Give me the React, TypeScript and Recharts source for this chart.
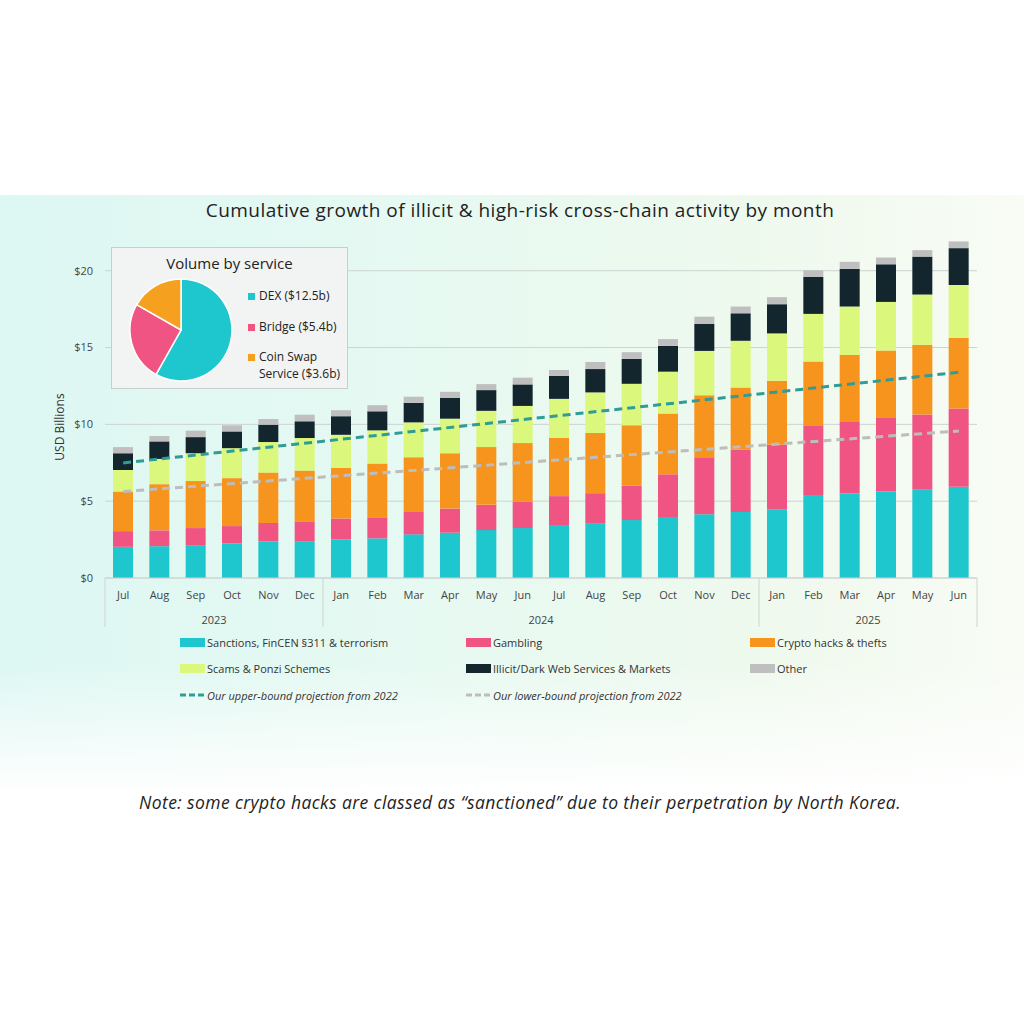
import React from 'react';
import { ComposedChart, Bar, Line, XAxis, YAxis, CartesianGrid, PieChart, Pie, Cell } from 'recharts';

const months = ['Jul','Aug','Sep','Oct','Nov','Dec','Jan','Feb','Mar','Apr','May','Jun','Jul','Aug','Sep','Oct','Nov','Dec','Jan','Feb','Mar','Apr','May','Jun'];
const sanctions = [2.03,2.07,2.14,2.25,2.38,2.40,2.51,2.58,2.84,2.95,3.12,3.25,3.45,3.53,3.77,3.97,4.15,4.30,4.48,5.41,5.50,5.63,5.74,5.94];
const gambling = [1.02,1.03,1.11,1.13,1.20,1.29,1.36,1.37,1.46,1.57,1.64,1.73,1.88,1.99,2.23,2.78,3.71,4.04,4.19,4.48,4.66,4.79,4.90,5.09];
const hacks = [2.58,3.01,3.06,3.12,3.28,3.30,3.31,3.50,3.56,3.60,3.76,3.80,3.80,3.92,3.94,3.95,4.04,4.06,4.17,4.20,4.36,4.39,4.54,4.59];
const scams = [1.40,1.64,1.81,1.95,1.99,2.12,2.14,2.16,2.27,2.25,2.36,2.42,2.53,2.64,2.70,2.73,2.88,3.04,3.08,3.10,3.15,3.16,3.27,3.45];
const darkweb = [1.09,1.14,1.05,1.09,1.13,1.09,1.21,1.24,1.27,1.36,1.35,1.40,1.49,1.52,1.62,1.68,1.77,1.79,1.90,2.40,2.45,2.45,2.47,2.40];
const other = [0.40,0.35,0.42,0.40,0.37,0.43,0.39,0.40,0.40,0.39,0.39,0.44,0.39,0.46,0.44,0.44,0.46,0.44,0.46,0.44,0.46,0.44,0.42,0.44];
// projection lines: only endpoints (straight lines)
const upperProj: (number | null)[] = [7.49,null,null,null,null,null,null,null,null,null,null,null,null,null,null,null,null,null,null,null,null,null,null,13.39];
const lowerProj: (number | null)[] = [5.63,null,null,null,null,null,null,null,null,null,null,null,null,null,null,null,null,null,null,null,null,null,null,9.57];

const yearLabels = [
  { label: '2023', start: 0, end: 5 },
  { label: '2024', start: 6, end: 17 },
  { label: '2025', start: 18, end: 23 },
];
const yTicks = [0, 5, 10, 15, 20];

const pieNames = ['DEX ($12.5b)', 'Bridge ($5.4b)', 'Coin Swap Service ($3.6b)'];
const pieValues = [12.5, 5.4, 3.6];

const C = {
  sanctions: '#1ec6cd',
  gambling: '#ef5483',
  hacks: '#f7941e',
  scams: '#dbf87c',
  dark: '#13252d',
  other: '#bfbfbf',
  upper: '#2f9d96',
  lower: '#bdbdbd',
};
const pieColors = [C.sanctions, C.gambling, '#f6a01f'];

const data = months.map((m, i) => ({
  month: m,
  idx: i,
  sanctions: sanctions[i],
  gambling: gambling[i],
  hacks: hacks[i],
  scams: scams[i],
  darkweb: darkweb[i],
  other: other[i],
  upper: upperProj[i],
  lower: lowerProj[i],
}));
const pieData = pieNames.map((n, i) => ({ name: n, value: pieValues[i] }));

const FONT = '"Open Sans", "Noto Sans", sans-serif';
const CHART_W = 1024;
const CHART_H = 640;
const MARGIN = { top: 240, right: 47, bottom: 12, left: 55 };
const Y_W = 50;
const X_H = 50;
const BAND = (CHART_W - MARGIN.left - MARGIN.right - Y_W) / months.length;

const MonthTick = (props: any) => {
  const { x, y, payload } = props;
  const i = payload.index;
  const els: React.ReactNode[] = [];
  els.push(
    <text key="m" x={x} y={y + 21} textAnchor="middle" fontSize={11} fill="#444" fontFamily={FONT}>
      {payload.value}
    </text>
  );
  yearLabels.forEach((yl) => {
    if (yl.start === i) {
      els.push(
        <line key={'s' + yl.label} x1={x - BAND / 2} x2={x - BAND / 2} y1={y} y2={y + 49} stroke="#cfd4d3" strokeWidth={1} />
      );
      els.push(
        <text key={'y' + yl.label} x={x + ((yl.end - yl.start) / 2) * BAND} y={y + 46} textAnchor="middle" fontSize={11} fill="#444" fontFamily={FONT}>
          {yl.label}
        </text>
      );
    }
    if (yl.end === i && i === months.length - 1) {
      els.push(
        <line key={'e' + yl.label} x1={x + BAND / 2} x2={x + BAND / 2} y1={y} y2={y + 49} stroke="#cfd4d3" strokeWidth={1} />
      );
    }
  });
  return <g>{els}</g>;
};

const legendItems = [
  { label: 'Sanctions, FinCEN §311 & terrorism', color: C.sanctions, type: 'box' },
  { label: 'Gambling', color: C.gambling, type: 'box' },
  { label: 'Crypto hacks & thefts', color: C.hacks, type: 'box' },
  { label: 'Scams & Ponzi Schemes', color: C.scams, type: 'box' },
  { label: 'Illicit/Dark Web Services & Markets', color: C.dark, type: 'box' },
  { label: 'Other', color: C.other, type: 'box' },
  { label: 'Our upper-bound projection from 2022', color: C.upper, type: 'dash' },
  { label: 'Our lower-bound projection from 2022', color: C.lower, type: 'dash' },
];
const legendCols = [180, 466, 750];
const legendRows = [642, 668, 695];

export default function App() {
  return (
    <div style={{ position: 'absolute', left: 0, top: 0, width: 1024, height: 1024, background: '#fff', overflow: 'hidden', fontFamily: FONT }}>
      <div
        style={{
          position: 'absolute', left: 0, top: 195, width: 1024, height: 600,
          background:
            'linear-gradient(to bottom, rgba(255,255,255,0) 0%, rgba(255,255,255,0) 78%, rgba(255,255,255,1) 100%), linear-gradient(to right, #ddf7f3 0%, #e6f9f2 40%, #eff9ee 75%, #f8fcf5 100%)',
        }}
      />
      <div style={{ position: 'absolute', left: 0, top: 197, width: 1040, textAlign: 'center', fontSize: 19, letterSpacing: 0.45, color: '#222', whiteSpace: 'nowrap' }}>
        Cumulative growth of illicit &amp; high-risk cross-chain activity by month
      </div>
      <div style={{ position: 'absolute', left: 0, top: 418, width: 120, transform: 'rotate(-90deg)', transformOrigin: '60px 9px', textAlign: 'center', fontSize: 12, color: '#333', lineHeight: '18px' }}>
        USD Billions
      </div>
      <div style={{ position: 'absolute', left: 0, top: 0 }}>
        <ComposedChart width={CHART_W} height={CHART_H} data={data} margin={MARGIN} barCategoryGap={0}>
          <CartesianGrid vertical={false} stroke="#ccd3d1" horizontalValues={yTicks} />
          <XAxis dataKey="month" interval={0} tickSize={0} tickMargin={0} height={X_H} tickLine={false} axisLine={{ stroke: '#cfd4d3' }} tick={<MonthTick />} />
          <YAxis width={Y_W} domain={[0, 22]} ticks={yTicks} tickSize={0} tickMargin={12} axisLine={false} tickLine={false} tickFormatter={(v: number) => `$${v}`} tick={{ fontSize: 11, fill: '#444', fontFamily: FONT }} />
          <Bar dataKey="sanctions" stackId="a" fill={C.sanctions} barSize={20} isAnimationActive={false} />
          <Bar dataKey="gambling" stackId="a" fill={C.gambling} barSize={20} isAnimationActive={false} />
          <Bar dataKey="hacks" stackId="a" fill={C.hacks} barSize={20} isAnimationActive={false} />
          <Bar dataKey="scams" stackId="a" fill={C.scams} barSize={20} isAnimationActive={false} />
          <Bar dataKey="darkweb" stackId="a" fill={C.dark} barSize={20} isAnimationActive={false} />
          <Bar dataKey="other" stackId="a" fill={C.other} barSize={20} isAnimationActive={false} />
          <Line dataKey="upper" type="linear" stroke={C.upper} strokeWidth={3} strokeDasharray="8 5" dot={false} connectNulls isAnimationActive={false} />
          <Line dataKey="lower" type="linear" stroke={C.lower} strokeWidth={3} strokeDasharray="8 5" dot={false} connectNulls isAnimationActive={false} />
        </ComposedChart>
      </div>

      {/* inset pie */}
      <div style={{ position: 'absolute', left: 111, top: 247, width: 235, height: 140, background: '#f2f3f3', border: '1px solid #c9cdcc' }}>
        <div style={{ position: 'absolute', left: 0, top: 5, width: 235, textAlign: 'center', fontSize: 15, color: '#222' }}>Volume by service</div>
        <div style={{ position: 'absolute', left: 13, top: 26 }}>
          <PieChart width={112} height={112} margin={{ top: 0, right: 0, bottom: 0, left: 0 }}>
            <Pie data={pieData} dataKey="value" cx={56} cy={56} outerRadius={51} startAngle={90} endAngle={-270} stroke="#fff" strokeWidth={1.5} isAnimationActive={false}>
              {pieData.map((d, i) => (
                <Cell key={d.name} fill={pieColors[i]} />
              ))}
            </Pie>
          </PieChart>
        </div>
        {[{ t: ['DEX ($12.5b)'], y: 48 }, { t: ['Bridge ($5.4b)'], y: 79 }, { t: ['Coin Swap', 'Service ($3.6b)'], y: 109 }].map((r, i) => (
          <div key={i} style={{ position: 'absolute', left: 136, top: r.y - 9, fontSize: 12, color: '#222', lineHeight: '17px' }}>
            <span style={{ position: 'absolute', left: 0, top: 6, width: 7, height: 7, background: pieColors[i] }} />
            <div style={{ marginLeft: 11 }}>
              {r.t.map((s, k) => (
                <div key={k}>{s}</div>
              ))}
            </div>
          </div>
        ))}
      </div>

      {/* legend */}
      {legendItems.map((it, i) => {
        const col = legendCols[i % 3];
        const row = legendRows[Math.floor(i / 3)];
        return (
          <div key={it.label} style={{ position: 'absolute', left: col, top: row - 8, height: 16, display: 'flex', alignItems: 'center', fontSize: 11, color: '#333', whiteSpace: 'nowrap' }}>
            {it.type === 'box' ? (
              <span style={{ display: 'inline-block', width: 25, height: 9, background: it.color, marginRight: 2 }} />
            ) : (
              <svg width={25} height={6} style={{ marginRight: 2 }}>
                <line x1={0} y1={3} x2={25} y2={3} stroke={it.color} strokeWidth={3} strokeDasharray="6 3" />
              </svg>
            )}
            <span style={{ fontStyle: it.type === 'dash' ? 'italic' : 'normal' }}>{it.label}</span>
          </div>
        );
      })}

      <div style={{ position: 'absolute', left: 0, top: 790, width: 1040, textAlign: 'center', fontSize: 17.5, letterSpacing: 0.4, fontStyle: 'italic', color: '#222', whiteSpace: 'nowrap' }}>
        Note: some crypto hacks are classed as “sanctioned” due to their perpetration by North Korea.
      </div>
    </div>
  );
}
